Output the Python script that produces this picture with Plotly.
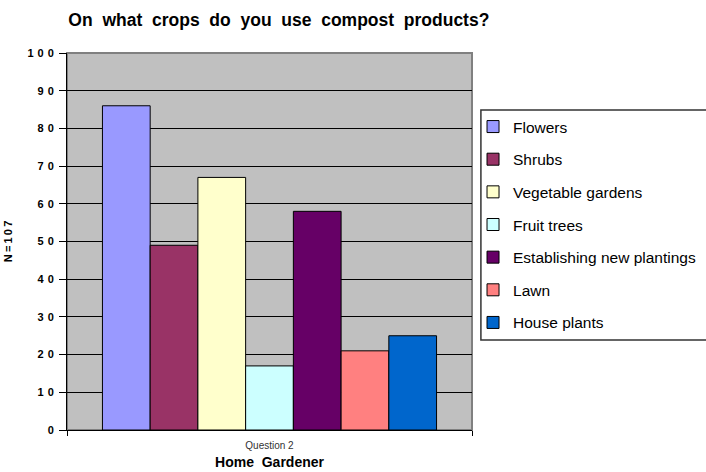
import plotly.graph_objects as go

categories = ["Flowers", "Shrubs", "Vegetable gardens", "Fruit trees",
              "Establishing new plantings", "Lawn", "House plants"]
counts = [86, 49, 67, 17, 58, 21, 25]
colors = ["#9999FF", "#993366", "#FFFFCC", "#CCFFFF", "#660066", "#FF8080", "#0066CC"]
group_label = ["Question 2"]
y_tickvals = [0, 10, 20, 30, 40, 50, 60, 70, 80, 90, 100]
y_ticktext = ["0", "10", "20", "30", "40", "50", "60", "70", "80", "90", "100"]

FONT = "Arial, Liberation Sans, sans-serif"
TS = "\u2009"  # thin space for the spaced-out axis title
GAP = " \u200a"  # Excel-style spaced digits on the value axis

fig = go.Figure()
for name, value, color in zip(categories, counts, colors):
    fig.add_trace(
        go.Bar(
            x=group_label,
            y=[value],
            name=name,
            legendgroup=name,
            marker=dict(color=color, line=dict(color="#000000", width=1)),
        )
    )

# gray plot-area frame (top / right), Excel style
fig.add_shape(
    type="rect", xref="x domain", yref="y domain", x0=0, x1=1, y0=0, y1=1,
    line=dict(color="#808080", width=2), layer="below",
)
# legend box, runs off the right edge like the original
fig.add_shape(
    type="rect", xref="paper", yref="paper", x0=1.022, x1=1.8, y0=0.239, y1=0.849,
    line=dict(color="#333333", width=1.5), fillcolor="#FFFFFF", layer="below",
)

fig.update_layout(
    width=706,
    height=472,
    barmode="group",
    bargap=0.175,
    bargroupgap=0,
    paper_bgcolor="#FFFFFF",
    plot_bgcolor="#C0C0C0",
    font=dict(family=FONT, color="#000000"),
    margin=dict(l=67, r=234, t=53, b=42),
    title=dict(
        text="<b>On  what  crops  do  you  use  compost  products?</b>",
        font=dict(size=17.5, family=FONT),
        x=0.395, xanchor="center", y=0.958, yanchor="middle",
    ),
    xaxis=dict(
        type="category",
        tickson="boundaries",
        ticks="outside",
        ticklen=5,
        tickcolor="#000000",
        ticklabelstandoff=6,
        showline=True,
        linecolor="#000000",
        linewidth=1,
        showgrid=False,
        tickfont=dict(size=10, family=FONT, color="#333333"),
        title=dict(text="<b>Home  Gardener</b>", font=dict(size=14, family=FONT), standoff=7),
        automargin=False,
    ),
    yaxis=dict(
        range=[0, 100],
        tickvals=y_tickvals,
        ticktext=["<b>%s</b>" % GAP.join(t) for t in y_ticktext],
        ticks="outside",
        ticklen=7,
        tickcolor="#000000",
        ticklabelstandoff=3,
        showline=True,
        linecolor="#000000",
        linewidth=1,
        showgrid=True,
        gridcolor="#000000",
        gridwidth=1,
        zeroline=False,
        tickfont=dict(size=11, family=FONT),
        title=dict(text="<b>" + TS.join("N=107") + "</b>", font=dict(size=11, family=FONT), standoff=12),
        automargin=False,
    ),
    legend=dict(
        xref="container", yref="container",
        x=0.67, xanchor="left",
        y=0.767, yanchor="top",
        bgcolor="rgba(0,0,0,0)",
        borderwidth=0,
        font=dict(size=15.5, family=FONT),
        traceorder="grouped",
        tracegroupgap=9.5,
        itemwidth=30,
    ),
)

fig.write_html(
    "out.html",
    config={"displayModeBar": False},
    post_script="document.body.style.margin='0';",
)
